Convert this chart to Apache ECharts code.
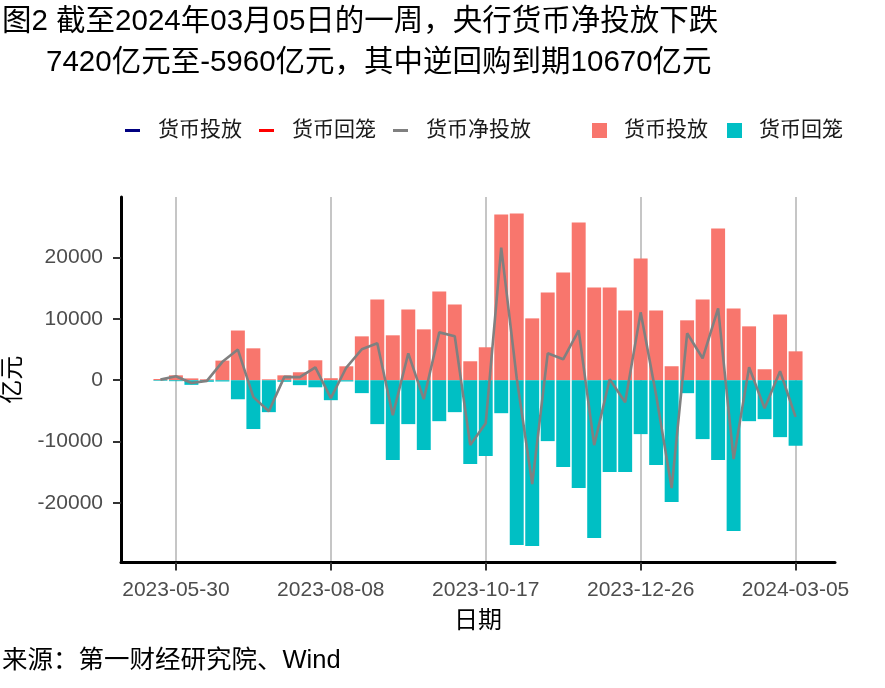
<!DOCTYPE html>
<html><head><meta charset="utf-8">
<script src="https://cdn.jsdelivr.net/npm/echarts@6/dist/echarts.min.js"></script>
<style>html,body{margin:0;padding:0;background:#fff}#c{width:885px;height:688px}</style>
</head><body><div id="c"></div>
<script>
// ---- data (亿元) ----
const dates = ['2023-05-23','2023-05-30','2023-06-06','2023-06-13','2023-06-20','2023-06-27','2023-07-04','2023-07-11','2023-07-18','2023-07-25',
  '2023-08-01','2023-08-08','2023-08-15','2023-08-22','2023-08-29','2023-09-05','2023-09-12','2023-09-19','2023-09-26','2023-10-03',
  '2023-10-10','2023-10-17','2023-10-24','2023-10-31','2023-11-07','2023-11-14','2023-11-21','2023-11-28','2023-12-05','2023-12-12',
  '2023-12-19','2023-12-26','2024-01-02','2024-01-09','2024-01-16','2024-01-23','2024-01-30','2024-02-06','2024-02-13','2024-02-20',
  '2024-02-27','2024-03-05'];
const injection = [200,800,300,150,3200,8100,5200,150,800,1300,
  3250,330,2270,7150,13170,7320,11540,8290,14470,12360,
  3090,5370,26990,27150,10080,14310,17560,25690,15120,15120,
  11380,19840,11380,2280,9760,13170,24710,11700,8780,1790,
  10730,4710];
const withdrawal = [-100,-150,-750,-250,-200,-3100,-7950,-5200,-250,-800,
  -1150,-3250,-200,-2100,-7150,-13010,-7150,-11380,-6670,-5200,
  -13660,-12360,-5370,-26830,-26990,-9920,-14150,-17560,-25690,-14960,
  -14960,-8780,-13820,-19840,-2110,-9590,-13010,-24550,-6670,-6340,
  -9270,-10670];
const netInjection = [100,650,-450,-100,3000,5000,-2750,-5050,550,500,
  2100,-2920,2070,5050,6020,-5690,4390,-3090,7800,7160,
  -10570,-6990,21620,320,-16910,4390,3410,8130,-10570,160,
  -3580,11060,-2440,-17560,7650,3580,11700,-12850,2110,-4550,
  1460,-5960];
const xTickLabels = ['2023-05-30','2023-08-08','2023-10-17','2023-12-26','2024-03-05'];
const yTickValues = [-20000,-10000,0,10000,20000];
const titleLine1 = '图2 截至2024年03月05日的一周，央行货币净投放下跌';
const titleLine2 = '7420亿元至-5960亿元，其中逆回购到期10670亿元';
const captionText = '来源：第一财经研究院、Wind';

// ---- helpers ----
const FONT = "'Liberation Sans','Noto Sans CJK SC',sans-serif";
function toMs(s){const p=s.split('-');return Date.UTC(+p[0],+p[1]-1,+p[2]);}
function fmt(ms){const d=new Date(ms);return d.getUTCFullYear()+'-'+String(d.getUTCMonth()+1).padStart(2,'0')+'-'+String(d.getUTCDate()).padStart(2,'0');}
const WEEK = 7*86400000;
const xs = dates.map(toMs);
const lo = xs[0]-0.45*WEEK, hi = xs[xs.length-1]+0.45*WEEK;
const xPad = (hi-lo)*0.05;
const yHi = Math.max(...injection,...netInjection), yLo = Math.min(...withdrawal,...netInjection);
const yPad = (yHi-yLo)*0.05;
const pair = arr => xs.map((x,i)=>[x,arr[i]]);

const chart = echarts.init(document.getElementById('c'), null, {renderer:'canvas'});
chart.setOption({
  animation:false,
  backgroundColor:'#fff',
  title:[
    {text:titleLine1,left:2,top:7,padding:0,textStyle:{fontFamily:FONT,fontSize:29.5,fontWeight:'normal',color:'#000'}},
    {text:titleLine2,left:46,top:48,padding:0,textStyle:{fontFamily:FONT,fontSize:29.5,fontWeight:'normal',color:'#000'}},
    {text:captionText,left:2,top:648,padding:0,textStyle:{fontFamily:FONT,fontSize:25.5,fontWeight:'normal',color:'#000'}}
  ],
  legend:[
    {left:125,top:120,padding:0,itemWidth:15,itemHeight:3,itemGap:17,icon:'rect',selectedMode:false,
     formatter:n=>n.slice(1),
     textStyle:{fontFamily:FONT,fontSize:21,color:'#1a1a1a',padding:[0,0,0,13]},
     data:[{name:'L货币投放',itemStyle:{color:'#000080'}},{name:'L货币回笼',itemStyle:{color:'#FF0000'}},{name:'L货币净投放',itemStyle:{color:'#808080'}}]},
    {left:592,top:120,padding:0,itemWidth:15,itemHeight:15,itemGap:19,icon:'rect',selectedMode:false,
     formatter:n=>n.slice(1),
     textStyle:{fontFamily:FONT,fontSize:21,color:'#1a1a1a',padding:[0,0,0,12]},
     data:[{name:'B货币投放',itemStyle:{color:'#F8766D'}},{name:'B货币回笼',itemStyle:{color:'#00BFC4'}}]}
  ],
  grid:{left:121,right:50,top:197,bottom:125.5,containLabel:false,outerBoundsMode:'none'},
  xAxis:{type:'value',min:lo-xPad,max:hi+xPad,
    name:'日期',nameLocation:'middle',nameGap:47,nameTextStyle:{fontFamily:FONT,fontSize:24,color:'#000'},
    axisLine:{show:true,onZero:false,lineStyle:{color:'#000',width:3}},
    axisTick:{show:true,length:8,lineStyle:{color:'#333',width:2},customValues:xTickLabels.map(toMs)},
    axisLabel:{customValues:xTickLabels.map(toMs),formatter:v=>fmt(v),fontFamily:FONT,fontSize:21,color:'#4d4d4d',margin:17},
    splitLine:{show:true,lineStyle:{color:'#b3b3b3',width:1.5}}
  },
  yAxis:{type:'value',min:yLo-yPad,max:yHi+yPad,
    name:'亿元',nameLocation:'middle',nameGap:96,nameRotate:90,nameTextStyle:{fontFamily:FONT,fontSize:24,color:'#000'},
    axisLine:{show:true,lineStyle:{color:'#000',width:3}},
    axisTick:{show:true,length:8,lineStyle:{color:'#333',width:2},customValues:yTickValues},
    axisLabel:{customValues:yTickValues,formatter:v=>String(v),fontFamily:FONT,fontSize:21,color:'#4d4d4d',margin:18},
    splitLine:{show:false}
  },
  series:[
    {name:'B货币投放',type:'bar',data:pair(injection),barWidth:'90%',barGap:'-100%',itemStyle:{color:'#F8766D'}},
    {name:'B货币回笼',type:'bar',data:pair(withdrawal),barWidth:'90%',barGap:'-100%',itemStyle:{color:'#00BFC4'}},
    {name:'L货币投放',type:'line',data:[],itemStyle:{color:'#000080'},lineStyle:{color:'#000080'}},
    {name:'L货币回笼',type:'line',data:[],itemStyle:{color:'#FF0000'},lineStyle:{color:'#FF0000'}},
    {name:'L货币净投放',type:'line',data:pair(netInjection),symbol:'none',z:5,itemStyle:{color:'#808080'},lineStyle:{color:'#808080',width:2.6}}
  ]
});
</script></body></html>
